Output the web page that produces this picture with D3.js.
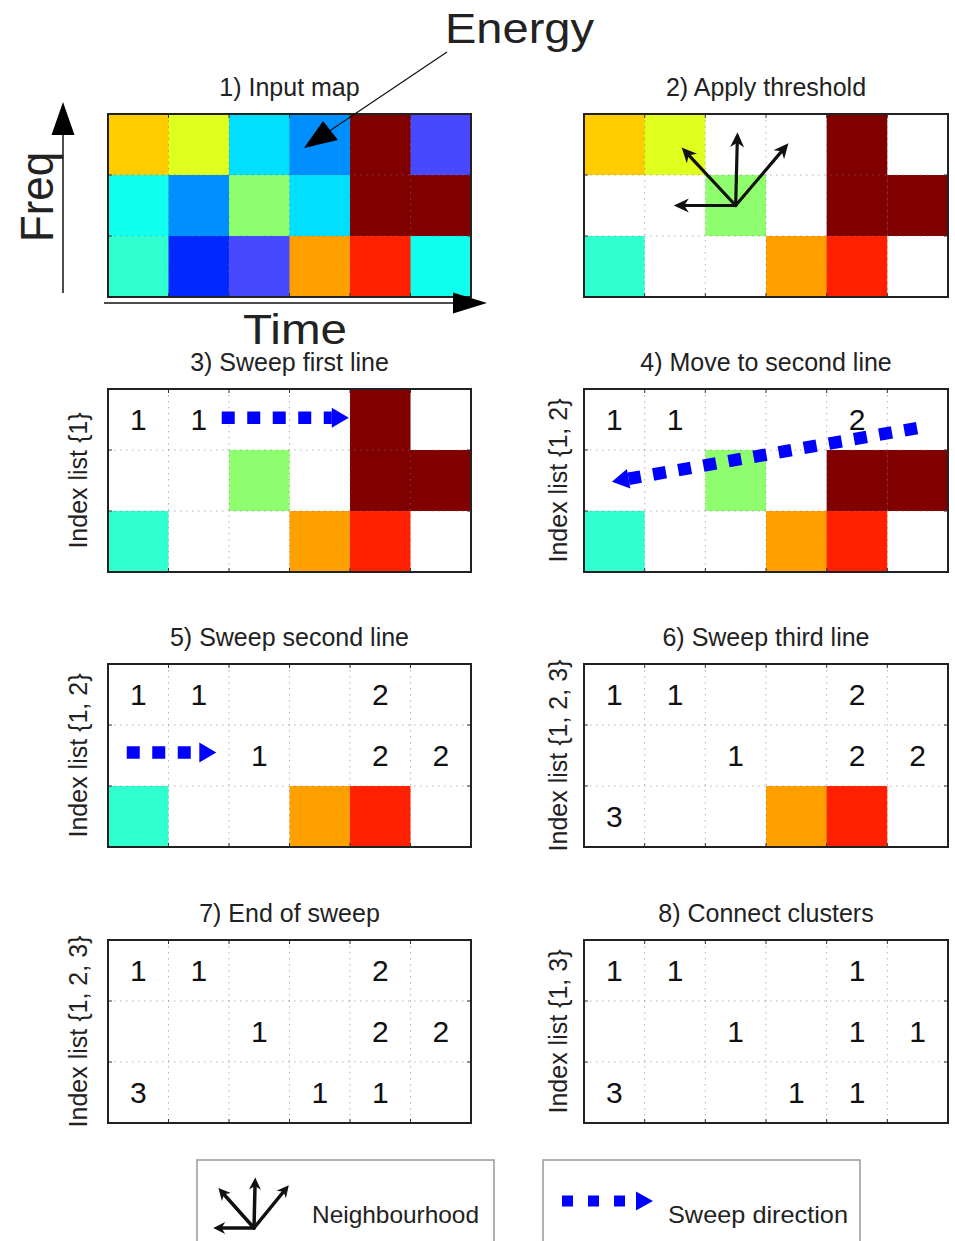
<!DOCTYPE html>
<html><head><meta charset="utf-8">
<script src="https://cdn.jsdelivr.net/npm/d3@7"></script>
<style>
html,body{margin:0;padding:0;background:#fff;}
text{font-family:"Liberation Sans",Arial,Helvetica,sans-serif;}
</style></head>
<body>
<svg id="chart" width="955" height="1241"></svg>
<script>
// ---------- data ----------
const timeBins = [0,1,2,3,4,5];
const freqBins = [0,1,2];           // row 0 = top (highest freq)
// energy levels (ascending) and their jet-like colours
const energyLevels = [0,1,2,3,4,5,6,7,8,9,10,11];
const levelColours = ["#0028FF","#4848FF","#008FFF","#00DFFF","#10FFEF","#30FFCF",
                      "#8FFF6F","#DFFF1F","#FFCC00","#FF9F00","#FF2000","#800000"];
const inputMap = [
  [8, 7, 3, 2, 11, 1],
  [4, 2, 6, 3, 11, 11],
  [5, 0, 1, 9, 10, 4]
];
const thresholdLevel = 5;
const panelTitles = ["1) Input map","2) Apply threshold","3) Sweep first line","4) Move to second line",
                     "5) Sweep second line","6) Sweep third line","7) End of sweep","8) Connect clusters"];
const indexLists = [null, null, "{1}", "{1, 2}", "{1, 2}", "{1, 2, 3}", "{1, 2, 3}", "{1, 3}"];
const clusterLabels = [
  null,
  null,
  [[1,1,0,0,0,0],[0,0,0,0,0,0],[0,0,0,0,0,0]],
  [[1,1,0,0,2,0],[0,0,0,0,0,0],[0,0,0,0,0,0]],
  [[1,1,0,0,2,0],[0,0,1,0,2,2],[0,0,0,0,0,0]],
  [[1,1,0,0,2,0],[0,0,1,0,2,2],[3,0,0,0,0,0]],
  [[1,1,0,0,2,0],[0,0,1,0,2,2],[3,0,0,1,1,0]],
  [[1,1,0,0,1,0],[0,0,1,0,1,1],[3,0,0,1,1,0]]
];
const legendLabels = ["Neighbourhood", "Sweep direction"];
// sweep arrows in cell units: [panel, x0, y0, x1(tip), y1(tip)]
const sweepArrows = [
  [2, 1.88, 0.47, 3.98, 0.47],
  [3, 5.49, 0.64, 0.46, 1.52],
  [4, 0.31, 1.45, 1.79, 1.45]
];
// neighbourhood arrows (cell units, relative to centre of cell col 2,row 1)
const neighbourhood = [[-1.02, 0], [-0.89, -0.95], [0.03, -1.2], [0.87, -1.02]];

// ---------- layout ----------
const svg = d3.select("#chart");
svg.append("rect").attr("width",955).attr("height",1241).attr("fill","#fff");
const colX = [[108,471],[584,948]];
const rowY = [114, 389, 664, 940];
const panelH = 183;
const colour = d3.scaleOrdinal().domain(energyLevels).range(levelColours);

function panelScales(i){
  const c = colX[i % 2], top = rowY[Math.floor(i/2)];
  const x = d3.scaleBand().domain(timeBins).range(c);
  const y = d3.scaleBand().domain(freqBins).range([top, top + panelH]);
  return {x, y, top, left:c[0], right:c[1]};
}

panelTitles.forEach((title, i) => {
  const {x, y, top, left, right} = panelScales(i);
  const g = svg.append("g");
  const labels = clusterLabels[i];
  const cells = [];
  freqBins.forEach(r => timeBins.forEach(c => {
    const lvl = inputMap[r][c];
    let fill = colour(lvl);
    if (i >= 1 && lvl < thresholdLevel) fill = "#fff";
    if (labels && labels[r][c]) fill = "#fff";
    cells.push({r, c, fill, label: labels ? labels[r][c] : 0});
  }));
  g.selectAll("rect.cell").data(cells).join("rect")
    .attr("class","cell")
    .attr("x", d => x(d.c)).attr("y", d => y(d.r))
    .attr("width", x.bandwidth()+0.5).attr("height", y.bandwidth()+0.5)
    .attr("fill", d => d.fill);
  // dotted grid
  g.selectAll("line.vg").data(timeBins.slice(1)).join("line")
    .attr("x1", d => x(d)).attr("x2", d => x(d))
    .attr("y1", top).attr("y2", top + panelH)
    .attr("stroke", "#777").attr("stroke-opacity", 0.55)
    .attr("stroke-width", 1).attr("stroke-dasharray", "1.5,4.5");
  g.selectAll("line.hg").data(freqBins.slice(1)).join("line")
    .attr("y1", d => y(d)).attr("y2", d => y(d))
    .attr("x1", left).attr("x2", right)
    .attr("stroke", "#777").attr("stroke-opacity", 0.55)
    .attr("stroke-width", 1).attr("stroke-dasharray", "1.5,4.5");
  // ticks
  timeBins.slice(1).forEach(d => {
    g.append("line").attr("x1", x(d)).attr("x2", x(d)).attr("y1", top).attr("y2", top+4).attr("stroke","#333");
    g.append("line").attr("x1", x(d)).attr("x2", x(d)).attr("y1", top+panelH).attr("y2", top+panelH-4).attr("stroke","#333");
  });
  freqBins.slice(1).forEach(d => {
    g.append("line").attr("y1", y(d)).attr("y2", y(d)).attr("x1", left).attr("x2", left+4).attr("stroke","#333");
    g.append("line").attr("y1", y(d)).attr("y2", y(d)).attr("x1", right).attr("x2", right-4).attr("stroke","#333");
  });
  // frame
  g.append("rect").attr("x", left).attr("y", top).attr("width", right-left).attr("height", panelH)
    .attr("fill","none").attr("stroke","#222").attr("stroke-width",2);
  // cluster labels
  g.selectAll("text.lab").data(cells.filter(d => d.label)).join("text")
    .attr("class","lab")
    .attr("x", d => x(d.c) + x.bandwidth()/2)
    .attr("y", d => y(d.r) + y.bandwidth()/2)
    .attr("dy","0.36em").attr("text-anchor","middle")
    .attr("font-size",30).attr("fill","#111")
    .text(d => d.label);
  // title
  svg.append("text").attr("x",(left+right)/2).attr("y", top-18)
    .attr("text-anchor","middle").attr("font-size",25).attr("fill","#222")
    .text(title);
  // index list label
  if (indexLists[i]) {
    const bx = i % 2 === 0 ? left - 21 : left - 17;
    svg.append("text")
      .attr("transform", `translate(${bx},${top + panelH/2}) rotate(-90)`)
      .attr("text-anchor","middle").attr("font-size",25).attr("fill","#222")
      .text("Index list " + indexLists[i]);
  }
});

// ---------- sweep arrows ----------
function sweep(g, x0, y0, x1, y1, w, dash, gap, headL, headW){
  const ang = Math.atan2(y1-y0, x1-x0);
  const bx = x1 - headL*Math.cos(ang), by = y1 - headL*Math.sin(ang);
  g.append("line").attr("x1",x0).attr("y1",y0).attr("x2",bx).attr("y2",by)
    .attr("stroke","#0000FF").attr("stroke-width",w).attr("stroke-dasharray",`${dash},${gap}`);
  const px = -Math.sin(ang)*headW, py = Math.cos(ang)*headW;
  g.append("path").attr("d", `M${x1},${y1}L${bx+px},${by+py}L${bx-px},${by-py}Z`).attr("fill","#0000FF");
}
sweepArrows.forEach(([p, cx0, cy0, cx1, cy1]) => {
  const {x, y} = panelScales(p);
  const bw = x.bandwidth(), bh = y.bandwidth();
  const X = v => x(0) + v*bw, Y = v => y(0) + v*bh;
  sweep(svg.append("g"), X(cx0), Y(cy0), X(cx1), Y(cy1), 12.5, 13, 12.5, 17, 10);
});

// ---------- neighbourhood arrows ----------
function arrowHead(g, x0, y0, x1, y1, L, W){
  const ang = Math.atan2(y1-y0, x1-x0);
  const bx = x1 - L*Math.cos(ang), by = y1 - L*Math.sin(ang);
  const px = -Math.sin(ang)*W, py = Math.cos(ang)*W;
  g.append("path").attr("d", `M${x1},${y1}L${bx+px},${by+py}L${bx+0.3*L*Math.cos(ang)},${by+0.3*L*Math.sin(ang)}L${bx-px},${by-py}Z`).attr("fill","#111");
}
function neighbours(g, ox, oy, sx, sy, sw, L, W){
  neighbourhood.forEach(([dx, dy]) => {
    const tx = ox + dx*sx, ty = oy + dy*sy;
    const ang = Math.atan2(ty-oy, tx-ox);
    g.append("line").attr("x1",ox).attr("y1",oy)
      .attr("x2", tx - 0.6*L*Math.cos(ang)).attr("y2", ty - 0.6*L*Math.sin(ang))
      .attr("stroke","#111").attr("stroke-width",sw).attr("stroke-linecap","round");
    arrowHead(g, ox, oy, tx, ty, L, W);
  });
}
{
  const {x, y} = panelScales(1);
  neighbours(svg.append("g"), x(2)+x.bandwidth()/2, y(1)+y.bandwidth()/2, x.bandwidth(), y.bandwidth(), 3.2, 15, 7);
}

// ---------- axes of the input map ----------
const ax = svg.append("g");
// Freq arrow
ax.append("line").attr("x1",63).attr("x2",63).attr("y1",293).attr("y2",130).attr("stroke","#111").attr("stroke-width",1.5);
ax.append("path").attr("d","M63,102L74.5,135L51.5,135Z").attr("fill","#000");
ax.append("text").attr("transform","translate(53,197) rotate(-90)").attr("text-anchor","middle")
  .attr("font-size",46).attr("fill","#222").attr("textLength",90).attr("lengthAdjust","spacingAndGlyphs").text("Freq");
// Time arrow
ax.append("line").attr("x1",104).attr("x2",460).attr("y1",303).attr("y2",303).attr("stroke","#111").attr("stroke-width",1.5);
ax.append("path").attr("d","M487,303L453,292.5L453,313.5Z").attr("fill","#000");
ax.append("text").attr("x",295).attr("y",344).attr("text-anchor","middle")
  .attr("font-size",42).attr("fill","#222").attr("textLength",104).attr("lengthAdjust","spacingAndGlyphs").text("Time");
// Energy pointer
ax.append("line").attr("x1",447).attr("y1",52).attr("x2",325).attr("y2",134).attr("stroke","#111").attr("stroke-width",1.2);
ax.append("path").attr("d","M304,148L323,121L338,140Z").attr("fill","#000");
ax.append("text").attr("x",445).attr("y",43)
  .attr("font-size",43).attr("fill","#222").attr("textLength",149).attr("lengthAdjust","spacingAndGlyphs").text("Energy");

// ---------- legend ----------
const lg = svg.append("g");
lg.append("rect").attr("x",197).attr("y",1160).attr("width",297).attr("height",100)
  .attr("fill","#fff").attr("stroke","#999").attr("stroke-width",1.5);
lg.append("rect").attr("x",543).attr("y",1160).attr("width",317).attr("height",100)
  .attr("fill","#fff").attr("stroke","#999").attr("stroke-width",1.5);
neighbours(lg, 254, 1228, 40, 42, 3.5, 12, 6);
lg.append("text").attr("x",312).attr("y",1223).attr("font-size",24).attr("fill","#222")
  .attr("textLength",167).attr("lengthAdjust","spacingAndGlyphs").text(legendLabels[0]);
sweep(lg, 562, 1201, 653, 1201, 11, 11, 15, 17, 9.5);
lg.append("text").attr("x",668).attr("y",1223).attr("font-size",24).attr("fill","#222")
  .attr("textLength",180).attr("lengthAdjust","spacingAndGlyphs").text(legendLabels[1]);
</script>
</body></html>
